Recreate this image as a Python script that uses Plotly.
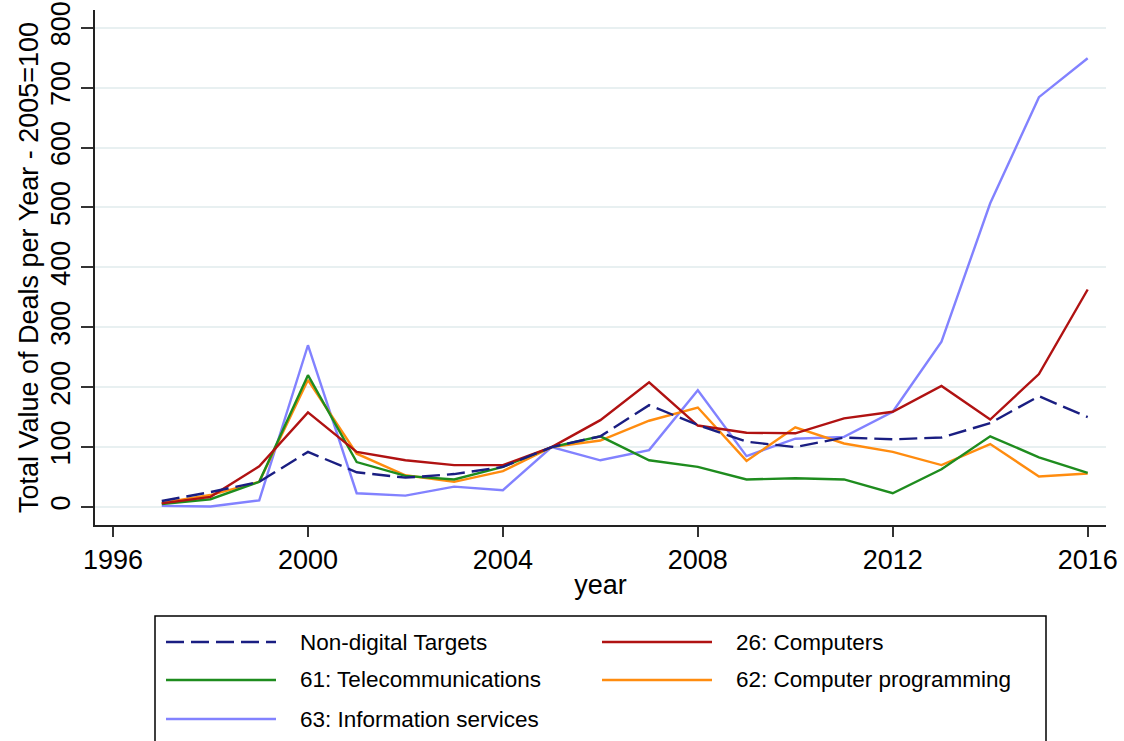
import plotly.graph_objects as go

# Index of total deal value per year (2005 = 100)
years = list(range(1997, 2017))

non_digital = [10, 25, 42, 92, 58, 49, 55, 67, 100, 118, 170, 137, 109, 100, 116, 113, 116, 140, 185, 150]
computers = [6, 17, 68, 158, 92, 78, 70, 70, 100, 145, 208, 136, 124, 123, 148, 159, 202, 146, 222, 363]
telecom = [5, 13, 42, 220, 75, 52, 46, 67, 100, 118, 78, 67, 46, 48, 46, 23, 63, 118, 83, 57]
programming = [7, 20, 42, 212, 89, 53, 42, 60, 100, 111, 144, 166, 77, 133, 106, 92, 70, 105, 51, 56]
info_services = [2, 1, 11, 270, 23, 19, 34, 28, 100, 78, 95, 195, 85, 114, 117, 159, 276, 507, 684, 749]

series_names = [
    "Non-digital Targets",
    "26: Computers",
    "61: Telecommunications",
    "62: Computer programming",
    "63: Information services",
]
series_values = [non_digital, computers, telecom, programming, info_services]
series_colors = ["rgb(26,30,130)", "rgb(176,18,18)", "rgb(30,140,30)", "rgb(255,140,15)", "rgb(130,130,255)"]
series_dash = ["18px,7px", "solid", "solid", "solid", "solid"]

x_ticks = [1996, 2000, 2004, 2008, 2012, 2016]
y_ticks = [0, 100, 200, 300, 400, 500, 600, 700, 800]

W, H = 1124, 741
ML, MR, MT, MB = 95, 18, 10, 216
FONT = "Liberation Sans, Arial, sans-serif"

fig = go.Figure()
# light-blue series drawn first so the others sit on top of it
order = [4, 3, 2, 1, 0]
for i in order:
    fig.add_trace(go.Scatter(
        x=years, y=series_values[i], mode="lines", name=series_names[i],
        line=dict(color=series_colors[i], width=2.4, dash=series_dash[i]),
        showlegend=False,
    ))

# helpers to place the legend box in pixel terms
pw = W - ML - MR
ph = H - MT - MB


def px_x(p):
    return (p - ML) / pw


def px_y(p):
    return (H - MB - p) / ph


shapes = []
annotations = []
shapes.append(dict(type="rect", xref="paper", yref="paper",
                   x0=px_x(155), x1=px_x(1046), y0=px_y(748), y1=px_y(616),
                   line=dict(color="black", width=1.5), fillcolor="white", layer="above"))

slots = [(166, 642), (602, 642), (166, 680), (602, 680), (166, 719)]
for i, (lx, ly) in enumerate(slots):
    shapes.append(dict(type="line", xref="paper", yref="paper",
                       x0=px_x(lx), x1=px_x(lx + 110), y0=px_y(ly), y1=px_y(ly),
                       line=dict(color=series_colors[i], width=2.5, dash=series_dash[i]),
                       layer="above"))
    annotations.append(dict(xref="paper", yref="paper", x=px_x(lx + 132), y=px_y(ly),
                            text=series_names[i], showarrow=False, xanchor="left",
                            yanchor="middle", font=dict(family=FONT, size=22.5, color="black")))

fig.update_layout(
    width=W, height=H,
    margin=dict(l=ML, r=MR, t=MT, b=MB, autoexpand=False),
    paper_bgcolor="white", plot_bgcolor="white",
    font=dict(family=FONT, size=27, color="black"),
    shapes=shapes, annotations=annotations,
    showlegend=False,
)
fig.update_xaxes(
    range=[1995.63, 2016.376], tickmode="array", tickvals=x_ticks,
    ticks="outside", ticklen=10, tickwidth=1.5, tickcolor="#333",
    showline=True, linecolor="#222", linewidth=1.5,
    showgrid=False, zeroline=False,
    tickfont=dict(size=27), title=dict(text="year", font=dict(size=27), standoff=1),
    automargin=False,
)
fig.update_yaxes(
    range=[-30, 829.5], tickmode="array", tickvals=y_ticks,
    ticks="outside", ticklen=12, tickwidth=1.5, tickcolor="#333",
    showline=True, linecolor="#222", linewidth=1.5,
    showgrid=True, gridcolor="#e8f0f1", gridwidth=2, zeroline=False,
    tickangle=-90, tickfont=dict(size=27),
    title=dict(text="Total Value of Deals per Year - 2005=100", font=dict(size=27), standoff=0),
    automargin=False,
)

fig.write_html("out.html")
